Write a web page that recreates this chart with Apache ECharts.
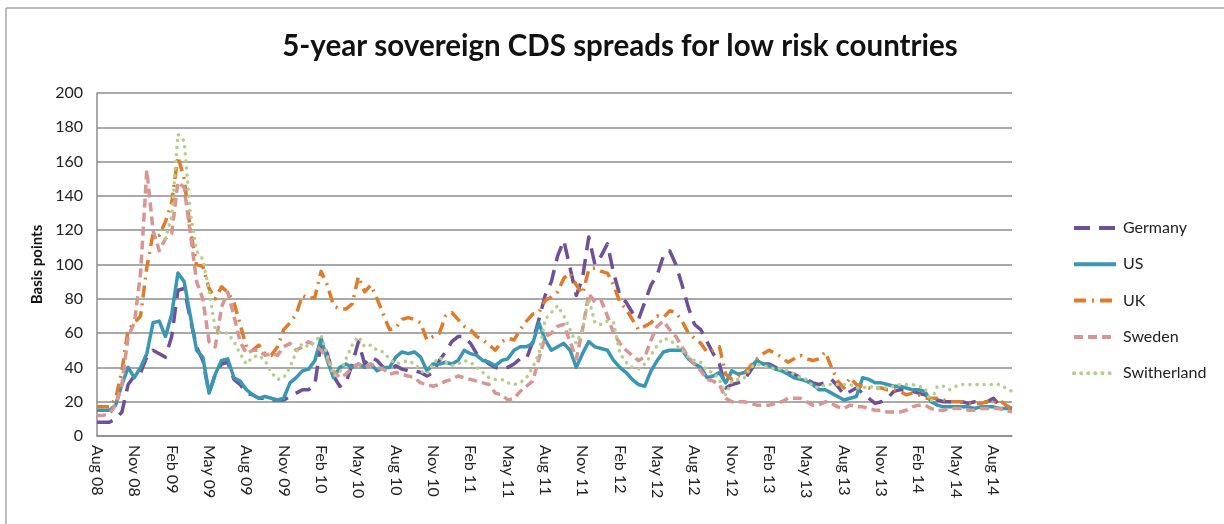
<!DOCTYPE html>
<html>
<head>
<meta charset="utf-8">
<script src="https://cdn.jsdelivr.net/npm/echarts@6/dist/echarts.min.js"></script>
<style>
  html, body { margin: 0; padding: 0; background: #ffffff; }
  #chart { width: 1224px; height: 524px; }
</style>
</head>
<body>
<div id="chart"></div>
<script>
// Half-monthly observations, Aug 2008 .. mid Oct 2014 (148 points)
const startYear = 2008;
const startMonth = 7; // August (0-based)
const pointsPerMonth = 2;

// Quarterly tick labels shown under the x axis
const tickLabels = ['Aug 08','Nov 08','Feb 09','May 09','Aug 09','Nov 09','Feb 10','May 10','Aug 10',
  'Nov 10','Feb 11','May 11','Aug 11','Nov 11','Feb 12','May 12','Aug 12','Nov 12','Feb 13','May 13',
  'Aug 13','Nov 13','Feb 14','May 14','Aug 14'];

// 5-year sovereign CDS spreads, basis points
const germany = [8,8,8,10,14,30,35,37,46,50,48,46,58,85,86,68,52,44,25,36,42,43,33,30,25,
  24,22,22,21,21,21,23,25,27,27,30,55,48,35,29,31,42,55,42,46,44,40,38,41,
  39,38,38,37,35,37,44,49,55,58,58,54,48,45,42,40,39,40,42,45,45,55,68,82,
  90,105,114,98,82,92,116,100,105,112,95,82,78,72,68,78,88,94,105,108,100,88,75,65,
  62,55,48,42,28,30,31,33,38,44,42,42,40,38,37,36,34,33,31,30,31,33,29,24,
  26,28,25,22,19,20,22,26,27,27,26,25,24,22,21,20,20,19,20,19,20,20,20,22,18,17,16];

const us = [15,15,15,18,30,40,34,40,48,66,67,58,71,95,90,70,50,46,25,36,44,45,34,32,27,
  24,22,23,22,21,22,31,34,38,39,44,57,44,34,40,42,40,42,40,42,38,40,40,46,
  49,48,49,46,38,42,42,43,42,44,50,48,47,44,43,41,44,45,50,52,52,54,66,56,
  50,52,54,50,40,48,55,52,51,50,44,40,37,33,30,29,38,44,49,50,50,50,45,42,
  40,34,35,37,31,38,36,37,40,44,42,41,39,38,36,34,33,32,30,27,27,25,23,21,
  22,23,34,33,31,31,30,29,29,28,27,27,26,20,18,17,17,17,17,17,16,17,17,17,16,16,16];

const uk = [17,17,17,22,38,62,66,70,98,118,117,125,136,163,150,120,100,99,86,80,87,84,78,65,52,
  50,53,48,47,52,62,66,71,82,80,81,96,88,76,74,74,77,93,84,88,80,71,62,63,
  68,69,68,66,56,58,60,70,72,68,64,62,58,56,53,50,55,57,56,62,67,71,72,79,
  81,84,92,95,88,83,97,98,96,95,88,78,74,68,62,64,66,70,69,73,72,67,60,57,
  54,49,50,52,36,33,35,36,41,45,48,50,48,46,43,45,47,45,44,45,49,40,32,28,
  34,30,29,28,28,28,27,27,26,24,25,24,22,22,22,21,20,20,20,19,19,19,20,19,21,18,16];

const sweden = [12,12,13,18,30,58,66,95,155,120,108,115,118,148,145,118,90,80,55,52,75,84,70,55,48,
  50,50,47,48,47,52,54,50,52,55,53,50,45,38,34,36,40,42,40,42,40,39,36,37,
  36,35,34,31,30,29,30,32,33,35,34,33,32,31,30,25,24,21,22,26,29,32,45,58,
  60,64,65,55,45,62,83,78,79,70,60,54,50,47,44,46,56,64,67,62,58,52,46,42,
  38,33,32,30,22,20,20,20,19,18,18,18,19,20,22,22,22,20,18,18,20,19,17,16,
  18,17,17,16,15,15,14,14,14,15,17,18,18,16,15,15,16,16,16,15,15,16,16,16,16,15,14];

const switzerland = [null,null,null,null,null,null,null,null,null,null,null,
  115,128,176,172,130,108,103,85,62,60,60,55,48,42,
  46,47,44,37,33,34,40,49,54,52,55,59,47,35,37,45,53,58,52,53,50,49,45,42,
  43,44,42,38,36,42,46,43,41,42,44,43,40,37,34,33,33,31,30,31,34,40,48,68,
  72,76,70,62,54,62,80,66,65,67,66,48,43,40,39,42,47,53,57,56,53,50,46,44,
  43,38,37,33,24,32,33,34,40,42,41,40,39,39,38,36,34,33,29,28,30,30,30,30,
  30,28,28,29,28,28,28,29,30,30,30,29,28,20,29,29,27,29,30,30,30,30,30,30,30,28,26];

// Category per half-month: "YYYY-MM-a" / "YYYY-MM-b"
const categories = [];
for (let i = 0; i < us.length; i++) {
  const m = startMonth + Math.floor(i / pointsPerMonth);
  const y = startYear + Math.floor(m / 12);
  const mm = (m % 12) + 1;
  categories.push(y + '-' + String(mm).padStart(2, '0') + (i % 2 === 0 ? '-a' : '-b'));
}

const font = 'Lato, "Open Sans", "Noto Sans", sans-serif';

function lineSeries(name, data, color, dash, cap) {
  return {
    name: name,
    type: 'line',
    data: data,
    symbol: 'none',
    smooth: false,
    connectNulls: false,
    lineStyle: { color: color, width: 3.5, type: dash, cap: cap || 'butt', join: 'round' },
    itemStyle: { color: color },
    emphasis: { disabled: true },
    animation: false
  };
}

const chart = echarts.init(document.getElementById('chart'), null, { renderer: 'canvas' });

chart.setOption({
  backgroundColor: '#ffffff',
  animation: false,
  title: {
    text: '5-year sovereign CDS spreads for low risk countries',
    left: 615,
    top: 26,
    textAlign: 'center',
    textStyle: { fontFamily: font, fontWeight: 'bold', fontSize: 29.5, color: '#111' }
  },
  graphic: [
    { type: 'line', shape: { x1: 6, y1: 8, x2: 1224, y2: 8 }, style: { stroke: '#a6a6a6', lineWidth: 1.5 } },
    { type: 'line', shape: { x1: 6, y1: 8, x2: 6, y2: 524 }, style: { stroke: '#a6a6a6', lineWidth: 1.5 } }
  ],
  legend: {
    orient: 'vertical',
    left: 1067,
    top: 215,
    itemWidth: 42,
    itemHeight: 8,
    itemGap: 20.3,
    itemStyle: { opacity: 0, borderWidth: 0 },
    lineStyle: { width: 4 },
    textStyle: { fontFamily: font, fontSize: 16, color: '#222', padding: [0, 0, 0, 2] },
    data: ['Germany', 'US', 'UK', 'Sweden', 'Switherland']
  },
  grid: { left: 97, right: 212, top: 93, bottom: 88, containLabel: false },
  xAxis: {
    type: 'category',
    boundaryGap: false,
    data: categories,
    axisLine: { lineStyle: { color: '#8c8c8c', width: 1.5 } },
    axisTick: { show: false },
    splitLine: { show: false },
    axisLabel: {
      rotate: -90,
      margin: 9,
      fontFamily: font,
      fontSize: 16,
      color: '#222',
      interval: function (index) { return index % 6 === 0; },
      formatter: function (value, index) { return tickLabels[index / 6] || ''; }
    }
  },
  yAxis: {
    type: 'value',
    min: 0,
    max: 200,
    interval: 20,
    name: 'Basis points',
    nameLocation: 'middle',
    nameGap: 46,
    nameRotate: 90,
    nameTextStyle: { fontFamily: font, fontWeight: 'bold', fontSize: 15, color: '#111' },
    axisLine: { show: true, lineStyle: { color: '#8c8c8c', width: 1.5 } },
    axisTick: { show: false },
    splitLine: { lineStyle: { color: '#8c8c8c', width: 1.5 } },
    axisLabel: { fontFamily: font, fontSize: 16, color: '#222', margin: 14 }
  },
  series: [
    lineSeries('Germany', germany, '#6f4f97', [16, 9]),
    lineSeries('US', us, '#3a97b3', 'solid'),
    lineSeries('UK', uk, '#e07b2a', [12, 6, 2, 6]),
    lineSeries('Sweden', sweden, '#d99592', [9, 5]),
    lineSeries('Switherland', switzerland, '#b3cf8c', [0.1, 7], 'round')
  ]
});
</script>
</body>
</html>
